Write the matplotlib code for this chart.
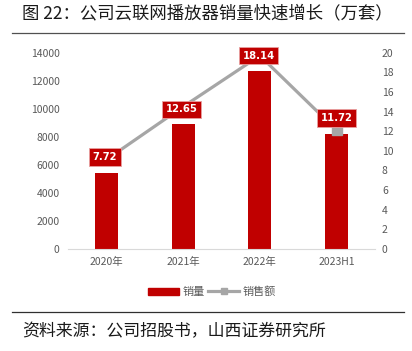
import matplotlib
matplotlib.use("Agg")
import matplotlib.pyplot as plt
from matplotlib.lines import Line2D
from matplotlib.patches import Patch

plt.rcParams['font.family'] = ['Noto Sans CJK SC', 'DejaVu Sans']

# data
years = ["2020年", "2021年", "2022年", "2023H1"]
volume = [5400, 8880, 12720, 8180]          # bars, left axis
amount = [9.1, 14.5, 19.7, 12.1]            # line, right axis
amount_labels = ["7.72", "12.65", "18.14", "11.72"]
left_ticks = [0, 2000, 4000, 6000, 8000, 10000, 12000, 14000]
right_ticks = [0, 2, 4, 6, 8, 10, 12, 14, 16, 18, 20]

W, H = 412, 351
red = '#c00000'
gray_line = '#a6a6a6'
tick_col = '#595959'

fig = plt.figure(figsize=(W / 100, H / 100), dpi=100)
ax = fig.add_axes([68 / W, 1 - 249 / H, (375 - 68) / W, (249 - 52.7) / H])

x = list(range(len(years)))
ax.bar(x, volume, width=0.3, color=red, zorder=2)
ax.set_xlim(-0.5, 3.5)
ax.set_ylim(0, 14000)
ax.set_yticks(left_ticks)
ax.set_xticks(x)
ax.set_xticklabels(years)
ax.tick_params(axis='both', length=0, labelsize=7.5, labelcolor=tick_col)
ax.tick_params(axis='y', pad=6)
ax.tick_params(axis='x', pad=6)
for s in ['top', 'right', 'left']:
    ax.spines[s].set_visible(False)
ax.spines['bottom'].set_color('#d9d9d9')

ax2 = ax.twinx()
ax2.plot(x, amount, color=gray_line, lw=2.3, marker='s', markersize=7,
         markerfacecolor=gray_line, markeredgecolor=gray_line, zorder=3)
ax2.set_ylim(0, 20)
ax2.set_yticks(right_ticks)
ax2.tick_params(axis='y', length=0, labelsize=7.5, labelcolor=tick_col, pad=5)
for s in ['top', 'right', 'left', 'bottom']:
    ax2.spines[s].set_visible(False)

# data label boxes (last one sits above its point)
offsets = [(-1, 2), (-1, -2), (-1, 0), (0, 9)]
for xi, yi, txt, off in zip(x, amount, amount_labels, offsets):
    ax2.annotate(txt, (xi, yi), xytext=off, textcoords='offset points',
                 ha='center', va='center', color='white', fontsize=7.2,
                 fontweight='bold', family=['DejaVu Sans'], zorder=5,
                 bbox=dict(boxstyle='square,pad=0.38', fc=red, ec='#e8a0a0', lw=0.6))

# legend
handles = [Patch(color=red),
           Line2D([], [], color=gray_line, lw=2.3, marker='s', markersize=4)]
fig.legend(handles, ["销量", "销售额"], loc='center', ncol=2,
           bbox_to_anchor=(212 / W, 1 - 292 / H), frameon=False,
           fontsize=8, labelcolor=tick_col, handlelength=2.8,
           handletextpad=0.3, columnspacing=0.3)

# title, rules and source
fig.text(22 / W, 1 - 13 / H, "图 22：公司云联网播放器销量快速增长（万套）",
         fontsize=12.5, va='center', ha='left', color='#1a1a1a')
fig.add_artist(Line2D([12 / W, 404 / W], [1 - 33 / H] * 2,
                      transform=fig.transFigure, color='#505050', lw=0.9))
fig.add_artist(Line2D([12 / W, 404 / W], [1 - 311.5 / H] * 2,
                      transform=fig.transFigure, color='#303030', lw=0.9))
fig.text(22 / W, 1 - 331 / H, "资料来源：公司招股书，山西证券研究所",
         fontsize=12.2, va='center', ha='left', color='#1a1a1a')

fig.savefig("out.png", dpi=100, facecolor='white')
